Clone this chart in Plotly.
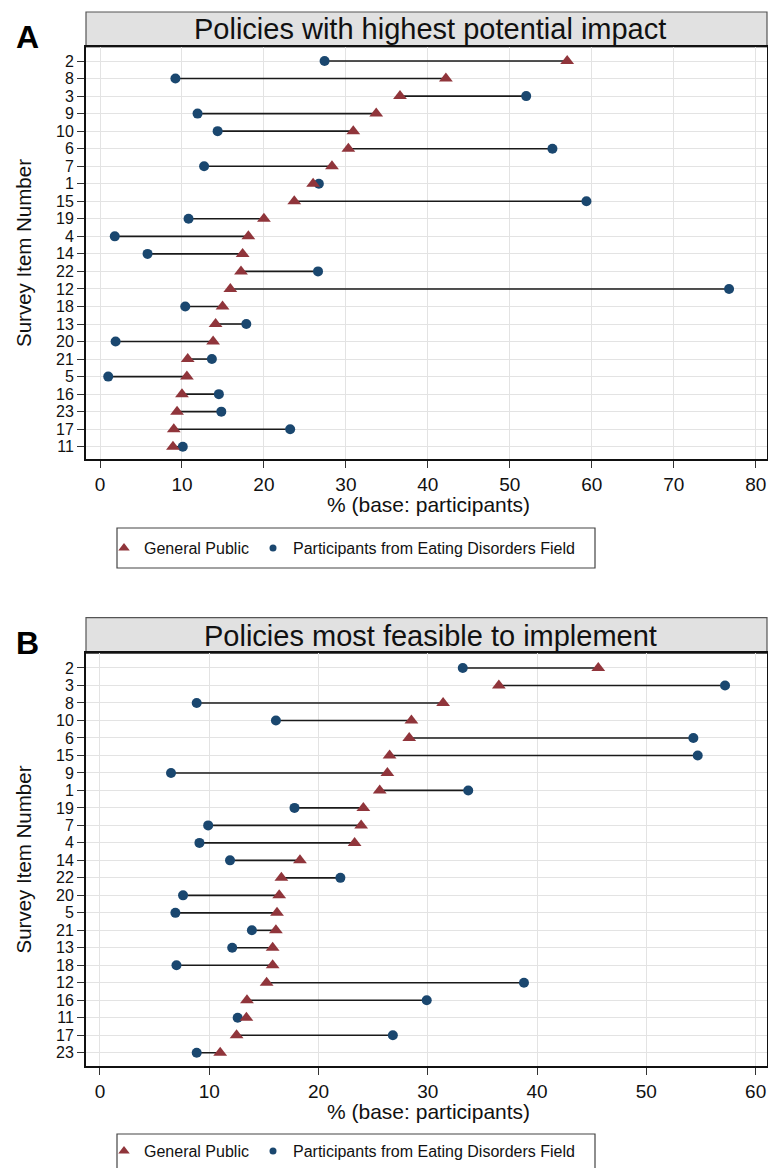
import plotly.graph_objects as go

# ---------------- data ----------------
items_a = ["2", "8", "3", "9", "10", "6", "7", "1", "15", "19", "4", "14", "22",
           "12", "18", "13", "20", "21", "5", "16", "23", "17", "11"]
public_a = [57.0, 42.2, 36.6, 33.7, 30.9, 30.3, 28.3, 26.0, 23.7, 20.0, 18.1, 17.4, 17.2,
            15.9, 14.95, 14.1, 13.8, 10.7, 10.6, 10.0, 9.4, 9.0, 8.9]
field_a = [27.4, 9.2, 52.0, 11.9, 14.35, 55.2, 12.7, 26.7, 59.35, 10.8, 1.8, 5.8, 26.6,
           76.75, 10.4, 17.85, 1.9, 13.65, 1.0, 14.5, 14.8, 23.2, 10.1]

items_b = ["2", "3", "8", "10", "6", "15", "9", "1", "19", "7", "4", "14", "22",
           "20", "5", "21", "13", "18", "12", "16", "11", "17", "23"]
public_b = [45.6, 36.5, 31.4, 28.5, 28.3, 26.5, 26.3, 25.6, 24.1, 23.9, 23.3, 18.3, 16.6,
            16.4, 16.2, 16.1, 15.8, 15.8, 15.25, 13.45, 13.4, 12.5, 11.0]
field_b = [33.2, 57.2, 8.85, 16.1, 54.3, 54.7, 6.5, 33.7, 17.8, 9.9, 9.1, 11.9, 22.0,
           7.6, 6.9, 13.9, 12.1, 7.0, 38.8, 29.9, 12.6, 26.8, 8.85]

ticks_a = [0, 10, 20, 30, 40, 50, 60, 70, 80]
ticks_b = [0, 10, 20, 30, 40, 50, 60]

titles = ["Policies with highest potential impact", "Policies most feasible to implement"]
series_names = ["General Public", "Participants from Eating Disorders Field"]
panel_letters = ["A", "B"]

# ---------------- style ----------------
W, H = 768, 1168
FONT = "Liberation Sans, Arial, sans-serif"
RED = "#90353b"
NAVY = "#1a476f"
GRID = "#e3e3e3"


def px(x):
    return x / W


def py(y):
    return 1 - y / H


fig = go.Figure()


def add_panel(items, pub, fld, xa, ya, legend_name):
    lx, ly = [], []
    for it, a, b in zip(items, pub, fld):
        lx += [a, b, None]
        ly += [it, it, None]
    fig.add_trace(go.Scatter(x=lx, y=ly, mode="lines", xaxis=xa, yaxis=ya,
                             line=dict(color="#1a1a1a", width=1.6),
                             showlegend=False, hoverinfo="skip"))
    fig.add_trace(go.Scatter(x=fld, y=items, mode="markers", xaxis=xa, yaxis=ya,
                             marker=dict(symbol="circle", size=10, color=NAVY),
                             name=series_names[1], showlegend=False))
    fig.add_trace(go.Scatter(x=pub, y=items, mode="markers", xaxis=xa, yaxis=ya,
                             marker=dict(symbol="triangle-up", size=12, color=RED),
                             name=series_names[0], showlegend=False))
    # legend-only entries
    fig.add_trace(go.Scatter(x=[None], y=[None], mode="markers", xaxis=xa, yaxis=ya,
                             marker=dict(symbol="triangle-up", size=10, color=RED),
                             name=series_names[0], legend=legend_name, legendwidth=104))
    fig.add_trace(go.Scatter(x=[None], y=[None], mode="markers", xaxis=xa, yaxis=ya,
                             marker=dict(symbol="circle", size=7, color=NAVY),
                             name=series_names[1], legend=legend_name, legendwidth=300))


add_panel(items_a, public_a, field_a, "x", "y", "legend")
add_panel(items_b, public_b, field_b, "x2", "y2", "legend2")

axis_common = dict(showline=True, linewidth=2, linecolor="#111111", mirror=True,
                   showgrid=True, gridcolor=GRID, gridwidth=1.3, zeroline=False,
                   ticks="outside", ticklen=7, tickwidth=1.2, tickcolor="#333333",
                   tickfont=dict(family=FONT, size=19, color="#111111"))
ycat_font = dict(family=FONT, size=16, color="#111111")

# panel geometry (pixels)
A = dict(top=47, bottom=459, box_top=12)
B = dict(top=653.3, bottom=1065.7, box_top=617.7)
LEFT, RIGHT = 86, 767

fig.update_layout(
    xaxis=dict(domain=[px(LEFT), px(RIGHT)], anchor="y", range=[-1.71, 81.38],
               tickmode="array", tickvals=ticks_a, **axis_common),
    yaxis=dict(domain=[py(A["bottom"]), py(A["top"])], anchor="x", type="category",
               categoryorder="array", categoryarray=items_a, range=[22.70, -0.80],
               tickmode="array", tickvals=items_a, ticktext=items_a, **axis_common),
    xaxis2=dict(domain=[px(LEFT), px(RIGHT)], anchor="y2", range=[-1.28, 61.04],
                tickmode="array", tickvals=ticks_b, **axis_common),
    yaxis2=dict(domain=[py(B["bottom"]), py(B["top"])], anchor="x2", type="category",
                categoryorder="array", categoryarray=items_b, range=[22.74, -0.84],
                tickmode="array", tickvals=items_b, ticktext=items_b, **axis_common),
)
fig.update_yaxes(tickfont=ycat_font)

shapes = []
annotations = []
for P, title, letter in zip([A, B], titles, panel_letters):
    # title strip
    shapes.append(dict(type="rect", xref="paper", yref="paper",
                       x0=px(LEFT), x1=px(RIGHT), y0=py(P["top"]), y1=py(P["box_top"]),
                       fillcolor="#e1e1e1", line=dict(color="#555555", width=1.2),
                       layer="below"))
    annotations.append(dict(xref="paper", yref="paper", x=px(430),
                            y=py((P["top"] + P["box_top"]) / 2),
                            text=title, showarrow=False, xanchor="center", yanchor="middle",
                            font=dict(family=FONT, size=29, color="#111111")))
    # panel letter
    annotations.append(dict(xref="paper", yref="paper", x=px(27),
                            y=py(P["box_top"] + 25),
                            text="<b>%s</b>" % letter, showarrow=False,
                            xanchor="center", yanchor="middle",
                            font=dict(family=FONT, size=32, color="#000000")))
    # y axis title
    annotations.append(dict(xref="paper", yref="paper", x=px(23),
                            y=py((P["top"] + P["bottom"]) / 2),
                            text="Survey Item Number", showarrow=False, textangle=-90,
                            xanchor="center", yanchor="middle",
                            font=dict(family=FONT, size=20.5, color="#111111")))
    # x axis title
    annotations.append(dict(xref="paper", yref="paper", x=px(428),
                            y=py(P["bottom"] + 46),
                            text="% (base: participants)", showarrow=False,
                            xanchor="center", yanchor="middle",
                            font=dict(family=FONT, size=21, color="#111111")))

# legend boxes
for top in [528, 1134]:
    shapes.append(dict(type="rect", xref="paper", yref="paper",
                       x0=px(117), x1=px(595), y0=py(top + 40), y1=py(top),
                       fillcolor="rgba(0,0,0,0)", line=dict(color="#444444", width=1.2)))

legend_common = dict(orientation="h", xanchor="left", yanchor="middle",
                     bgcolor="rgba(0,0,0,0)", borderwidth=0,
                     font=dict(family=FONT, size=16, color="#111111"))

fig.update_layout(
    width=W, height=H,
    margin=dict(l=0, r=0, t=0, b=0),
    paper_bgcolor="white", plot_bgcolor="white",
    shapes=shapes, annotations=annotations,
    legend=dict(x=px(104), y=py(548), **legend_common),
    legend2=dict(x=px(104), y=py(1151), **legend_common),
    showlegend=True,
)

fig.write_html("out.html", config={"displayModeBar": False},
               post_script="document.body.style.margin='0';document.body.style.overflow='hidden';")
